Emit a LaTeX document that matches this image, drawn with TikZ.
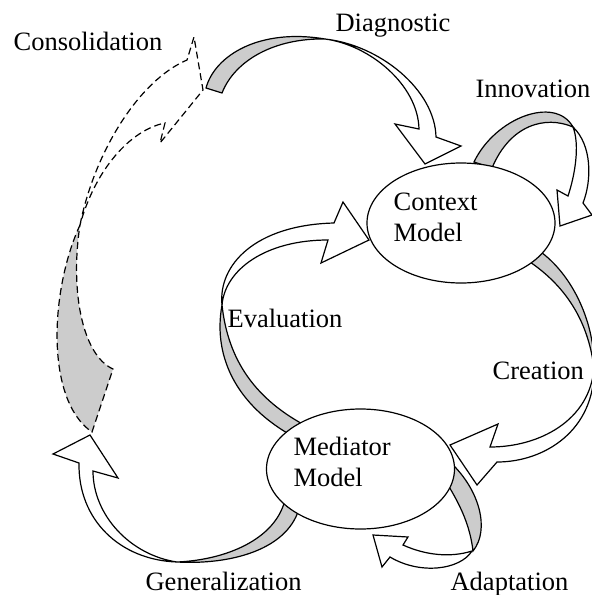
\documentclass[tikz,border=0pt]{standalone}
\usepackage{fontspec}
\setmainfont{Liberation Serif}
\usetikzlibrary{shapes.geometric}

\begin{document}
\begin{tikzpicture}[x=1pt, y=-1pt, line width=1.2pt,
  front/.style={draw=black, fill=white},
  back/.style={draw=black, fill=gray!40},
  dashline/.style={dash pattern=on 7pt off 4pt},
  model/.style={draw=black, fill=white, ellipse, inner sep=0pt, minimum width=188pt, minimum height=120pt},
  txt/.style={anchor=base west, inner sep=0pt, font=\fontsize{26.5}{31}\selectfont}]
\useasboundingbox (0,0) rectangle (592,595);

% adaptation
\draw[back] (448,485) .. controls (460,505) and (470,525) .. (473,551) .. controls (490,530) and (480,490) .. (450,462) -- cycle;
\draw[front] (472,551) .. controls (450,558) and (425,555) .. (403,545) -- (408,537) -- (373,535) -- (382,567) -- (390,557) .. controls (420,575) and (460,570) .. (472,551) -- cycle;

% generalization
\draw[back] (300,505) .. controls (290,550) and (230,565) .. (177,562) .. controls (225,560) and (275,540) .. (285,500) -- cycle;
\draw[front] (177,562) .. controls (130,555) and (93,515) .. (93,471) -- (118,478) -- (90,435) -- (53,454) -- (79,463) .. controls (78,520) and (120,560) .. (177,562) -- cycle;

% evaluation
\draw[back] (222,305) .. controls (212,360) and (240,410) .. (300,440) -- (310,428) .. controls (255,400) and (228,360) .. (222,305) -- cycle;
\draw[front] (222,305) .. controls (218,265) and (255,225) .. (334,223) -- (343,202) -- (369,240) -- (321,263) -- (328,240) .. controls (265,240) and (225,270) .. (222,305) -- cycle;

% consolidation
\draw[back, dashline] (80,225) .. controls (50,290) and (45,400) .. (92,432) -- (113,369) .. controls (82,355) and (70,290) .. (80,225) -- cycle;
\draw[front, dashline] (80,225) .. controls (95,150) and (140,80) .. (187,60) -- (194,37) -- (203,90) -- (160,143) -- (165,123) .. controls (130,130) and (95,170) .. (80,225) -- cycle;

% diagnostic
\draw[back] (206,88) .. controls (215,55) and (260,28) .. (325,39) .. controls (275,38) and (235,60) .. (222,93) -- cycle;
\draw[front] (325,39) .. controls (380,45) and (435,90) .. (436,137) -- (461,146) -- (425,164) -- (395,124) -- (419,129) .. controls (418,85) and (370,45) .. (325,39) -- cycle;

% innovation
\draw[back] (474,162) .. controls (495,118) and (555,95) .. (573,127) .. controls (545,115) and (510,125) .. (492,168) -- cycle;
\draw[front] (573,127) .. controls (592,145) and (592,180) .. (583,203) -- (592,215) -- (560,226) -- (557,190) -- (568,196) .. controls (575,175) and (580,145) .. (573,127) -- cycle;

% creation
\draw[back] (535,248) .. controls (570,270) and (595,320) .. (594,368) .. controls (588,320) and (565,285) .. (527,260) -- cycle;
\draw[front] (594,368) .. controls (595,430) and (545,462) .. (497,462) -- (477,485) -- (450,445) -- (498,424) -- (490,447) .. controls (540,447) and (590,420) .. (594,368) -- cycle;

\node[model] (context) at (461,223) {};
\node[model] (mediator) at (360.5,469) {};
\node[txt] (contextA) at (393,210) {Context};
\node[txt] (contextB) at (393,241) {Model};
\node[txt] (mediatorA) at (293,455) {Mediator};
\node[txt] (mediatorB) at (293,486) {Model};

\node[txt] (consolidation) at (13,50) {Consolidation};
\node[txt] (diagnostic) at (335,31) {Diagnostic};
\node[txt] (innovation) at (475,97) {Innovation};
\node[txt] (evaluation) at (227,327) {Evaluation};
\node[txt] (creation) at (492,379) {Creation};
\node[txt] (generalization) at (145,590) {Generalization};
\node[txt] (adaptation) at (450,590) {Adaptation};
\end{tikzpicture}
\end{document}
